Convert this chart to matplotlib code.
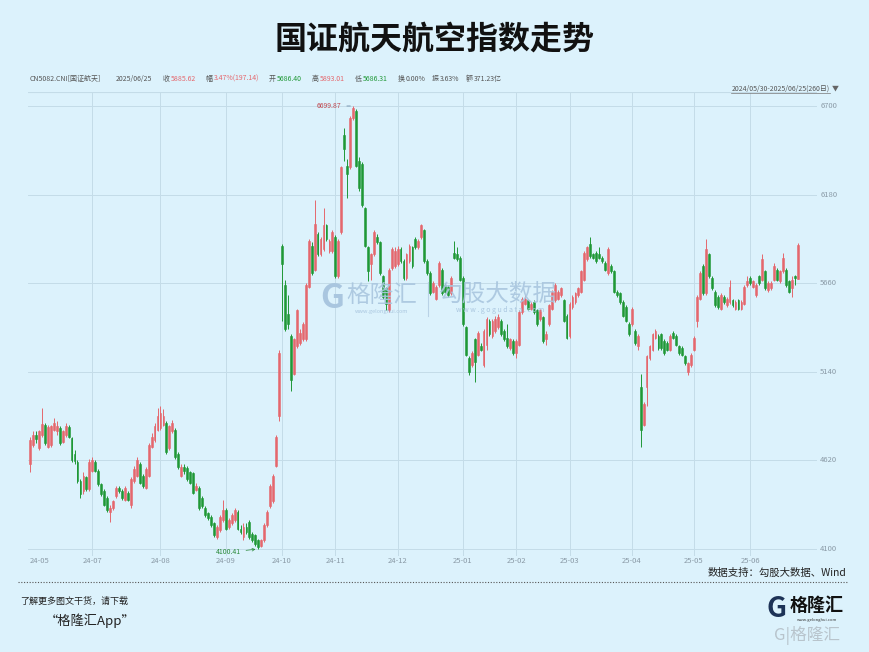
import matplotlib
matplotlib.use("Agg")
import matplotlib.pyplot as plt
import pandas as pd

plt.rcParams['font.family'] = ['Noto Sans CJK SC', 'DejaVu Sans']

# trading calendar 2024/05/30 - 2025/06/25 (260 days)
holidays = ['2024-06-10', '2024-09-16', '2024-09-17', '2024-10-01', '2024-10-02', '2024-10-03',
            '2024-10-04', '2024-10-07', '2025-01-01', '2025-01-28', '2025-01-29', '2025-01-30',
            '2025-01-31', '2025-02-03', '2025-02-04', '2025-04-04', '2025-05-01', '2025-05-02',
            '2025-05-05', '2025-06-02']
days = pd.bdate_range('2024-05-30', '2025-06-25')
days = days[~days.isin(pd.to_datetime(holidays))]

opens = [4600, 4710, 4770, 4690, 4770, 4830, 4700, 4710, 4800, 4790,
         4810, 4730, 4770, 4815, 4750, 4660, 4610, 4500, 4440, 4520,
         4450, 4560, 4610, 4560, 4480, 4440, 4400, 4320, 4340, 4410,
         4460, 4440, 4390, 4430, 4360, 4500, 4530, 4600, 4530, 4460,
         4530, 4700, 4740, 4800, 4810, 4830, 4840, 4690, 4790, 4800,
         4660, 4530, 4580, 4575, 4550, 4545, 4445, 4460, 4400, 4340,
         4310, 4290, 4250, 4170, 4210, 4270, 4330, 4230, 4250, 4270,
         4320, 4220, 4170, 4230, 4260, 4190, 4180, 4150, 4120, 4150,
         4240, 4350, 4380, 4590, 4880, 5880, 5650, 5480, 5350, 5130,
         5290, 5310, 5330, 5330, 5640, 5880, 5740, 5950, 5830, 5860,
         6000, 5850, 5850, 5930, 5700, 5960, 6530, 6350, 6340, 6630,
         6670, 6380, 6360, 6100, 5870, 5770, 5830, 5930, 5900, 5700,
         5630, 5500, 5750, 5760, 5770, 5860, 5790, 5690, 5790, 5870,
         5920, 5870, 5930, 5970, 5790, 5720, 5610, 5570, 5650, 5740,
         5650, 5640, 5600, 5840, 5830, 5810, 5690, 5400, 5220, 5180,
         5330, 5240, 5290, 5180, 5300, 5440, 5350, 5380, 5400, 5440,
         5380, 5340, 5280, 5320, 5250, 5300, 5490, 5540, 5560, 5510,
         5550, 5500, 5450, 5460, 5330, 5420, 5510, 5560, 5570, 5590,
         5560, 5470, 5350, 5520, 5550, 5590, 5610, 5680, 5800, 5890,
         5830, 5840, 5830, 5810, 5780, 5720, 5760, 5730, 5610, 5600,
         5550, 5520, 5420, 5420, 5380, 5290, 5050, 4830, 5050, 5220,
         5270, 5340, 5350, 5360, 5320, 5310, 5270, 5370, 5350, 5290,
         5280, 5230, 5140, 5180, 5270, 5440, 5570, 5760, 5600, 5830,
         5690, 5610, 5580, 5510, 5580, 5530, 5550, 5560, 5510, 5560,
         5510, 5540, 5650, 5690, 5640, 5590, 5700, 5680, 5730, 5620,
         5630, 5680, 5740, 5670, 5730, 5740, 5670, 5630, 5700, 5686.40]
highs = [4760, 4790, 4790, 4800, 4925, 4840, 4830, 4830, 4870, 4850,
         4820, 4800, 4840, 4830, 4760, 4680, 4620, 4510, 4550, 4530,
         4630, 4640, 4620, 4570, 4490, 4450, 4410, 4360, 4390, 4470,
         4470, 4450, 4470, 4440, 4520, 4590, 4640, 4610, 4540, 4580,
         4720, 4780, 4840, 4930, 4940, 4920, 4850, 4830, 4860, 4810,
         4670, 4600, 4600, 4590, 4560, 4550, 4490, 4470, 4410, 4350,
         4320, 4300, 4260, 4240, 4300, 4390, 4340, 4280, 4310, 4340,
         4330, 4240, 4250, 4250, 4270, 4200, 4190, 4160, 4160, 4250,
         4330, 4480, 4540, 4770, 5270, 5890, 5680, 5590, 5360, 5340,
         5510, 5390, 5430, 5660, 5920, 5900, 6150, 5960, 5930, 6100,
         6010, 5920, 5970, 5940, 5920, 6350, 6570, 6390, 6640, 6699.87,
         6680, 6400, 6370, 6110, 5880, 5840, 5970, 5950, 5910, 5710,
         5640, 5750, 5870, 5870, 5880, 5870, 5800, 5840, 5890, 5880,
         5930, 5920, 6010, 5980, 5800, 5730, 5670, 5650, 5790, 5750,
         5660, 5650, 5700, 5910, 5870, 5820, 5700, 5410, 5230, 5260,
         5340, 5380, 5310, 5390, 5460, 5450, 5450, 5470, 5480, 5450,
         5390, 5420, 5340, 5330, 5330, 5500, 5580, 5590, 5570, 5550,
         5560, 5510, 5510, 5470, 5380, 5540, 5620, 5660, 5620, 5640,
         5570, 5480, 5550, 5590, 5610, 5640, 5740, 5850, 5880, 5930,
         5840, 5850, 5870, 5820, 5790, 5870, 5770, 5740, 5620, 5610,
         5560, 5530, 5430, 5520, 5390, 5360, 5130, 4960, 5240, 5300,
         5370, 5390, 5360, 5370, 5330, 5320, 5360, 5380, 5360, 5300,
         5290, 5240, 5200, 5250, 5350, 5590, 5730, 5770, 5920, 5840,
         5700, 5620, 5590, 5600, 5590, 5580, 5680, 5570, 5560, 5570,
         5560, 5650, 5700, 5700, 5680, 5660, 5710, 5830, 5740, 5670,
         5670, 5780, 5750, 5740, 5840, 5750, 5680, 5700, 5710, 5893.01]
lows = [4550, 4700, 4720, 4680, 4760, 4710, 4690, 4700, 4790, 4770,
        4710, 4720, 4760, 4750, 4610, 4600, 4490, 4400, 4420, 4440,
        4440, 4550, 4550, 4470, 4410, 4350, 4320, 4260, 4330, 4400,
        4430, 4390, 4380, 4380, 4340, 4490, 4520, 4480, 4460, 4450,
        4520, 4690, 4730, 4790, 4800, 4820, 4660, 4680, 4780, 4630,
        4570, 4520, 4540, 4500, 4480, 4420, 4440, 4330, 4340, 4290,
        4270, 4230, 4170, 4160, 4200, 4260, 4210, 4220, 4240, 4260,
        4210, 4190, 4150, 4190, 4160, 4140, 4120, 4100.41, 4110, 4140,
        4230, 4340, 4370, 4580, 4850, 5440, 5380, 5390, 5030, 5120,
        5280, 5300, 5320, 5320, 5630, 5710, 5730, 5820, 5820, 5850,
        5910, 5840, 5840, 5690, 5690, 5950, 6380, 6160, 6330, 6620,
        6340, 6200, 6110, 5870, 5670, 5680, 5820, 5890, 5710, 5570,
        5500, 5490, 5740, 5750, 5760, 5780, 5680, 5680, 5780, 5750,
        5860, 5860, 5920, 5780, 5710, 5590, 5600, 5560, 5640, 5590,
        5600, 5580, 5590, 5800, 5790, 5670, 5410, 5230, 5120, 5170,
        5080, 5230, 5260, 5170, 5270, 5350, 5340, 5370, 5390, 5350,
        5320, 5280, 5270, 5240, 5220, 5290, 5480, 5530, 5500, 5500,
        5480, 5410, 5440, 5310, 5300, 5410, 5500, 5550, 5560, 5580,
        5430, 5330, 5340, 5510, 5540, 5580, 5600, 5670, 5790, 5810,
        5800, 5780, 5800, 5780, 5730, 5710, 5720, 5600, 5580, 5540,
        5460, 5430, 5350, 5410, 5300, 5270, 4700, 4820, 4940, 5210,
        5260, 5330, 5270, 5270, 5240, 5260, 5260, 5330, 5290, 5240,
        5230, 5180, 5120, 5170, 5260, 5400, 5560, 5590, 5590, 5690,
        5620, 5520, 5510, 5500, 5540, 5520, 5540, 5520, 5500, 5500,
        5500, 5530, 5640, 5650, 5630, 5580, 5650, 5670, 5620, 5610,
        5620, 5670, 5670, 5660, 5720, 5640, 5600, 5580, 5650, 5686.31]
closes = [4740, 4770, 4745, 4790, 4835, 4720, 4815, 4820, 4840, 4820,
          4720, 4790, 4820, 4760, 4620, 4615, 4500, 4420, 4530, 4455,
          4610, 4620, 4560, 4480, 4420, 4360, 4330, 4340, 4380, 4460,
          4440, 4400, 4460, 4390, 4510, 4570, 4620, 4490, 4470, 4570,
          4710, 4760, 4820, 4880, 4900, 4880, 4670, 4820, 4840, 4640,
          4580, 4580, 4560, 4510, 4490, 4430, 4470, 4340, 4350, 4300,
          4280, 4240, 4180, 4230, 4290, 4330, 4220, 4270, 4300, 4330,
          4220, 4200, 4230, 4200, 4170, 4150, 4130, 4110, 4150, 4240,
          4320, 4470, 4530, 4760, 5250, 5770, 5390, 5420, 5090, 5330,
          5500, 5370, 5420, 5650, 5910, 5720, 6010, 5830, 5920, 6000,
          5920, 5910, 5960, 5700, 5910, 6340, 6450, 6300, 6630, 6690,
          6350, 6220, 6120, 5880, 5730, 5830, 5960, 5900, 5720, 5580,
          5540, 5740, 5860, 5850, 5860, 5790, 5690, 5830, 5880, 5760,
          5870, 5910, 6000, 5790, 5720, 5600, 5660, 5640, 5780, 5600,
          5610, 5590, 5690, 5810, 5800, 5680, 5420, 5240, 5140, 5250,
          5200, 5370, 5270, 5380, 5450, 5360, 5440, 5450, 5460, 5360,
          5330, 5290, 5330, 5250, 5320, 5490, 5570, 5570, 5510, 5540,
          5490, 5420, 5500, 5320, 5360, 5530, 5610, 5650, 5610, 5630,
          5440, 5340, 5540, 5580, 5600, 5630, 5730, 5840, 5870, 5820,
          5810, 5790, 5810, 5790, 5740, 5860, 5730, 5610, 5590, 5550,
          5470, 5440, 5360, 5510, 5310, 5350, 4800, 4950, 5230, 5290,
          5360, 5380, 5280, 5280, 5250, 5270, 5350, 5340, 5300, 5250,
          5240, 5190, 5190, 5240, 5340, 5580, 5720, 5600, 5860, 5700,
          5630, 5530, 5520, 5590, 5550, 5570, 5640, 5530, 5550, 5510,
          5550, 5640, 5670, 5660, 5670, 5650, 5660, 5800, 5630, 5660,
          5660, 5760, 5680, 5730, 5810, 5650, 5610, 5680, 5688.48, 5885.62]

yticks = [4100, 4620, 5140, 5660, 6180, 6700]

RED = '#e5676d'
GREEN = '#1f9836'
BG = '#dcf2fc'
GRID = '#c4dce8'

W, H = 870, 652
fig = plt.figure(figsize=(W / 100, H / 100), dpi=100, facecolor=BG)


def fx(px):
    return px / W


def fy(py):
    return 1 - py / H


ax = fig.add_axes([fx(28), fy(556), fx(817) - fx(28), fy(92) - fy(556)])
ax.set_facecolor(BG)
for s in ax.spines.values():
    s.set_visible(False)

idx = list(range(len(closes)))
for i in idx:
    o, h, l, c = opens[i], highs[i], lows[i], closes[i]
    col = RED if c >= o else GREEN
    ax.vlines(i, l, h, color=col, lw=0.7, zorder=3)
    ax.bar(i, abs(c - o), bottom=min(o, c), width=0.62, color=col,
           edgecolor=col, linewidth=0.4, zorder=4)

ax.set_xlim(-0.7, 265.5)
ax.set_ylim(4059, 6782)

# grid lines
for v in yticks:
    ax.axhline(v, color=GRID, lw=0.7, zorder=1)
    ax.text(1.004, v, str(v), transform=ax.get_yaxis_transform(), ha='left',
            va='center', fontsize=5.5, color='#8a9aa6')

month_pos = []
month_lab = []
prev = None
for i, d in enumerate(days):
    key = (d.year, d.month)
    if key != prev:
        month_pos.append(i)
        month_lab.append(d.strftime('%y-%m'))
        prev = key
for p, lab in zip(month_pos, month_lab):
    if lab == '24-06':
        continue
    if p > 0:
        ax.axvline(p, color=GRID, lw=0.7, zorder=1)
    ax.text(p, -0.002, lab, transform=ax.get_xaxis_transform(), ha='left' if p == 0 else 'center',
            va='top', fontsize=5.5, color='#8a9aa6')
ax.axhline(6782, color=GRID, lw=0.8)
ax.set_xticks([])
ax.set_yticks([])

# extremes
ax.annotate('6699.87', xy=(109, 6699.87), xytext=(105, 6699.87), ha='right', va='center',
            fontsize=5, color='#c0454c',
            arrowprops=dict(arrowstyle='-', color='#5a7a9a', lw=0.5))
ax.annotate('4100.41', xy=(77, 4100.41), xytext=(71, 4080), ha='right', va='center',
            fontsize=5, color='#2a8a3a',
            arrowprops=dict(arrowstyle='->', color='#2a8a3a', lw=0.5))

# watermark
fig.text(fx(332), fy(298), 'G', fontsize=24, color='#a9c6df', weight='bold', ha='center', va='center')
fig.text(fx(382), fy(295), '格隆汇', fontsize=17, color='#a9c6df', ha='center', va='center', alpha=0.9)
fig.text(fx(382), fy(312), 'www.gelonghui.com', fontsize=4, color='#a9c6df', ha='center', va='center')
fig.add_artist(plt.Line2D([fx(428), fx(428)], [fy(282), fy(316)], color='#b9d2e6', lw=0.8))
fig.text(fx(497), fy(294), '勾股大数据', fontsize=17, color='#a9c6df', ha='center', va='center', alpha=0.9)
fig.text(fx(500), fy(310), 'w w w . g o g u d a t a . c o m', fontsize=5, color='#a9c6df', ha='center', va='center')

# title
fig.text(0.5, fy(40), '国证航天航空指数走势', fontsize=23, weight='bold', ha='center', va='center', color='#111111')

# info line
gray = '#555555'
pieces = [(30, 'CN5082.CNI[国证航天]', gray), (116, '2025/06/25', gray), (163, '收', gray),
          (171, '5885.62', RED), (206, '幅', gray), (214, '3.47%(197.14)', RED),
          (269, '开', gray), (277, '5686.40', GREEN), (312, '高', gray), (320, '5893.01', RED),
          (355, '低', gray), (363, '5686.31', GREEN), (398, '换', gray), (406, '0.00%', gray),
          (432, '振', gray), (440, '3.63%', gray), (466, '额', gray), (474, '371.23亿', gray)]
for px, t, c in pieces:
    fig.text(fx(px), fy(79), t, fontsize=5, color=c, ha='left', va='center')

fig.text(fx(830), fy(89), '2024/05/30-2025/06/25(260日)', fontsize=5, color='#555555', ha='right',
         va='center')
fig.text(fx(835), fy(89), '▼', fontsize=5, color='#666666', ha='center', va='center')
fig.add_artist(plt.Line2D([fx(731), fx(830)], [fy(93), fy(93)], color='#777777', lw=0.5))

# footer
fig.text(fx(846), fy(573), '数据支持：勾股大数据、Wind', fontsize=7.5, color='#222222', ha='right', va='center')
fig.add_artist(plt.Line2D([fx(18), fx(848)], [fy(582), fy(582)], color='#555555', lw=0.8, ls=(0, (1, 1.5))))
fig.text(fx(20), fy(601), '了解更多图文干货，请下载', fontsize=6.5, color='#222222', style='italic',
         ha='left', va='center')
fig.text(fx(45), fy(621), '“格隆汇App”', fontsize=9.5, color='#222222', style='italic', ha='left',
         va='center')

# logo
fig.text(fx(777), fy(609), 'G', fontsize=20, weight='bold', color='#1d3357', ha='center', va='center')
fig.text(fx(817), fy(605), '格隆汇', fontsize=13, weight='bold', color='#111111', ha='center', va='center')
fig.text(fx(817), fy(620), 'www.gelonghui.com', fontsize=3, color='#333333', ha='center', va='center')
fig.text(fx(807), fy(635), 'G|格隆汇', fontsize=12, color='#b8c4cc', ha='center', va='center')

fig.savefig('out.png', dpi=100, facecolor=BG)
